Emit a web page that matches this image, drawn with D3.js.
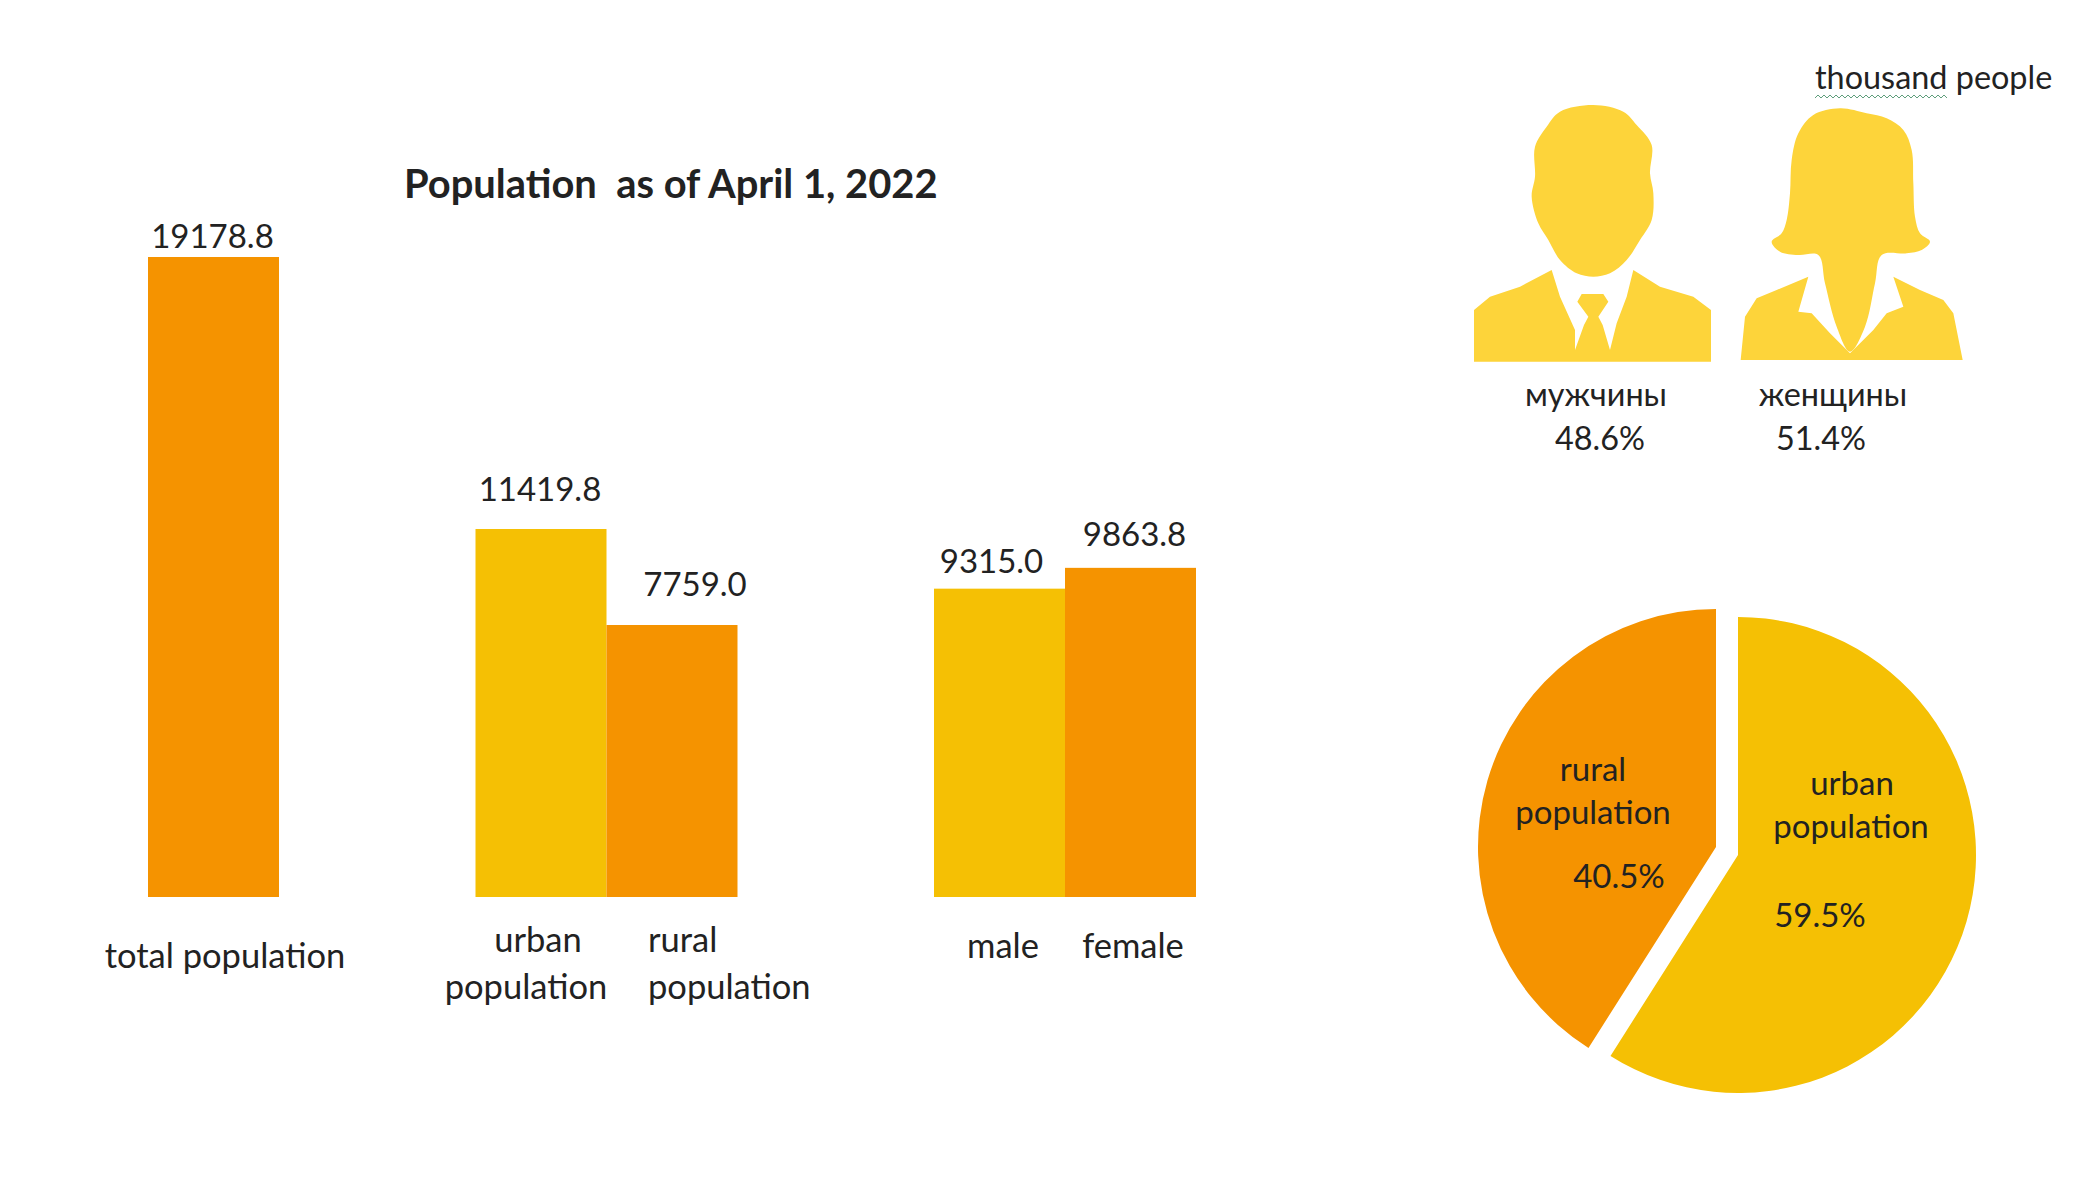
<!DOCTYPE html>
<html>
<head>
<meta charset="utf-8">
<script src="https://cdn.jsdelivr.net/npm/d3@7"></script>
<style>
  html, body { margin: 0; padding: 0; background: #fff; }
  text { font-family: Lato, "Open Sans", sans-serif; fill: #222; white-space: pre; }
</style>
</head>
<body>
<div id="chart"></div>
<script>
// 1: DATA
const barGroups = [
    ["total population"],
    ["urban population", "rural population"],
    ["male", "female"]
];
// printed value of each bar
const barLabels = ["19178.8", "11419.8", "7759.0", "9315.0", "9863.8"];
// height as drawn: several bars in the picture do not match their printed number
const barValues = [19178.8, 11028, 8151, 9240, 9863.8];
const barKinds = ["total", "urban", "rural", "urban", "rural"];

const pieCategories = ["urban population", "rural population"];
// slice sizes as drawn, a little off the printed percentages
const pieShares = [59, 41];
const pieLabels = ["59.5%", "40.5%"];

const genderNames = ["мужчины", "женщины"];
const genderShares = ["48.6%", "51.4%"];

// 2: SIZES AND COLOURS
const width = 2100;
const height = 1181;
const colors = { total: "#f59300", urban: "#f5c004", rural: "#f59300", icon: "#fdd43a" };
const valueFont = 33;
const categoryFont = 34.5;
const noteFont = 32.4;

const svg = d3.select("#chart").append("svg")
    .attr("width", width)
    .attr("height", height)
    .style("display", "block");

function addText(x, y, str, anchor = "middle", size = valueFont, weight = 400) {
    return svg.append("text")
        .attr("x", x)
        .attr("y", y)
        .attr("text-anchor", anchor)
        .style("font-size", size + "px")
        .style("font-weight", weight)
        .text(str);
}

// 3: BARS
// each bar is one unit wide, groups are 1.5 units apart
let slot = 0;
const slots = [];
barGroups.forEach(g => {
    g.forEach(() => { slots.push(slot); slot += 1; });
    slot += 1.5;
});

const xScale = d3.scaleLinear().domain([0, 8]).range([148, 1196]);
const yScale = d3.scaleLinear().domain([0, 19178.8]).range([897, 257]);

svg.selectAll(".bar")
    .data(barValues)
    .enter()
    .append("rect")
    .attr("class", "bar")
    .attr("x", (d, i) => xScale(slots[i]))
    .attr("y", d => yScale(d))
    .attr("width", xScale(1) - xScale(0))
    .attr("height", d => yScale(0) - yScale(d))
    .style("fill", (d, i) => colors[barKinds[i]]);

// value labels sit a little off centre in the reference
const valueNudge = [[-1, -9], [-1, -28], [23, -29], [-8, -16], [4, -22]];
barLabels.forEach((s, i) => {
    const cx = xScale(slots[i] + 0.5);
    addText(cx + valueNudge[i][0], yScale(barValues[i]) + valueNudge[i][1], s);
});

addText(404, 198, "Population  as of April 1, 2022", "start", 39.9, 700);

addText(225, 968, barGroups[0][0], "middle", categoryFont);
addText(538, 952, "urban", "middle", categoryFont);
addText(526, 999, "population", "middle", categoryFont);
addText(648, 952, "rural", "start", categoryFont);
addText(648, 999, "population", "start", categoryFont);
addText(1003, 958, barGroups[2][0], "middle", categoryFont);
addText(1133, 958, barGroups[2][1], "middle", categoryFont);

// 4: PIE
const radius = 238;
const pie = d3.pie().sort(null);
const arc = d3.arc().innerRadius(0).outerRadius(radius);
const sliceCenters = [[1738, 855], [1716, 847]];

svg.selectAll(".slice")
    .data(pie(pieShares))
    .enter()
    .append("path")
    .attr("class", "slice")
    .attr("transform", (d, i) => `translate(${sliceCenters[i][0]},${sliceCenters[i][1]})`)
    .attr("d", arc)
    .style("fill", (d, i) => i === 0 ? colors.urban : colors.rural);

addText(1852, 795, pieCategories[0].split(" ")[0]);
addText(1851, 838, pieCategories[0].split(" ")[1]);
addText(1820, 927, pieLabels[0]);
addText(1593, 781, pieCategories[1].split(" ")[0]);
addText(1593, 824, pieCategories[1].split(" ")[1]);
addText(1619, 888, pieLabels[1]);

// 5: PEOPLE ICONS (outlines)
const outline = d3.line();
const smooth = d3.line().curve(d3.curveCatmullRomClosed);

const manHead = [[400,45],[300,65],[260,110],[225,170],[225,260],[215,320],[235,400],[265,450],[300,510],[350,550],[400,560],[450,550],[500,510],[540,450],[575,390],[580,310],[570,250],[575,165],[530,105],[490,65]];
const manBody = [[42,815],[42,660],[90,620],[180,590],[275,540],[300,620],[345,720],[345,780],[372,705],[385,680],[352,635],[365,612],[430,612],[445,635],[415,680],[428,705],[450,780],[470,700],[500,620],[520,540],[600,590],[700,620],[753,660],[753,815]];
const womanHair = [[300,175],[220,195],[175,250],[155,330],[150,430],[140,510],[125,550],[95,575],[120,605],[175,615],[235,615],[255,700],[290,830],[330,905],[375,830],[405,700],[425,615],[500,610],[545,600],[570,575],[540,550],[525,500],[520,400],[515,300],[490,240],[440,205],[380,190]];
const womanBody = [[2,930],[15,800],[50,745],[110,720],[205,680],[175,785],[215,790],[270,850],[330,910],[400,840],[440,790],[490,770],[460,680],[540,720],[610,750],[640,790],[668,930]];

function addIcon(x, y, parts) {
    const g = svg.append("g").attr("transform", `translate(${x},${y}) scale(${1 / 3})`);
    parts.forEach(p => g.append("path").attr("d", p).style("fill", colors.icon));
}
addIcon(1460, 90, [outline(manBody) + "Z", smooth(manHead)]);
addIcon(1740, 50, [outline(womanBody) + "Z", smooth(womanHair)]);

addText(1596, 406, genderNames[0], "middle", noteFont);
addText(1600, 450, genderShares[0], "middle", noteFont);
addText(1833, 406, genderNames[1], "middle", noteFont);
addText(1821, 450, genderShares[1], "middle", noteFont);

// 6: UNIT NOTE with the spell-check squiggle under the first word
addText(1815, 89, "thousand people", "start", noteFont);
const squiggle = d3.range(1815, 1949, 3).map((x, i) => [x, i % 2 ? 95 : 98]);
svg.append("path")
    .attr("d", outline(squiggle))
    .style("fill", "none")
    .style("stroke", "#5f9e7c")
    .style("stroke-width", 1);
</script>
</body>
</html>
